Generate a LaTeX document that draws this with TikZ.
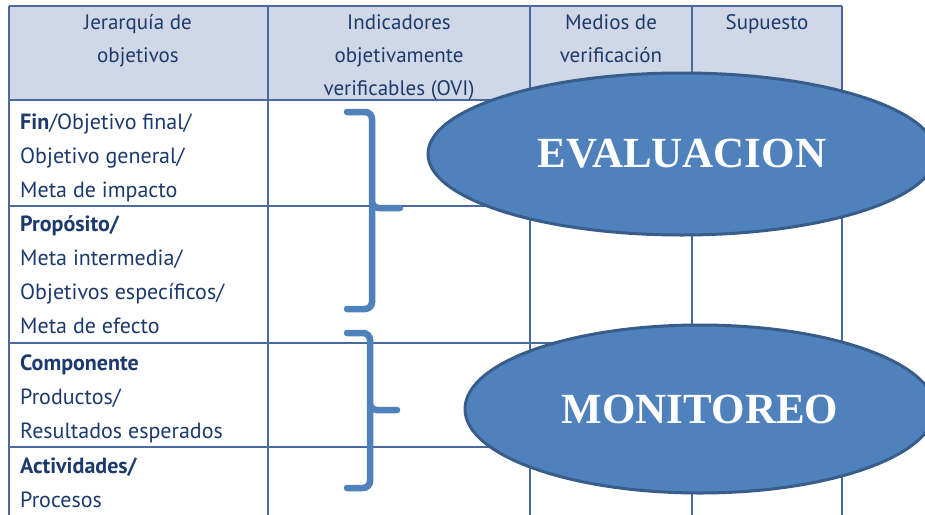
\documentclass[tikz,border=0pt]{standalone}
\usepackage{fontspec}
\setmainfont{Liberation Serif}
\newfontfamily\tabfont{PT Sans}
\usetikzlibrary{shapes.geometric}

\definecolor{hdrfill}{HTML}{D0D8E8}
\definecolor{gridcol}{HTML}{4A6A9E}
\definecolor{txtblue}{HTML}{1C3A6C}
\definecolor{ellfill}{HTML}{4F81BD}
\definecolor{elldraw}{HTML}{385D8A}

\tikzset{
  cell/.style={text=txtblue, inner sep=0pt, anchor=base},
  hcell/.style={cell, align=center, font=\tabfont\fontsize{21}{33}\selectfont},
  rowtext/.style={cell, align=left, anchor=base west, font=\tabfont\fontsize{22}{34}\selectfont},
  brace/.style={line width=6.5pt, color=ellfill, rounded corners=7pt, line cap=round},
  oval/.style={ellipse, fill=ellfill, draw=elldraw, line width=3pt, text=white,
    font=\bfseries\fontsize{43}{43}\selectfont, inner sep=0pt}
}

\begin{document}
\begin{tikzpicture}[x=1pt, y=-1pt]
\useasboundingbox (0,0) rectangle (925,514);
\clip (0,0) rectangle (925,514);
\fill[white] (0,0) rectangle (925,514);

% header
\fill[hdrfill] (9,6) rectangle (842,100);
\draw[gridcol, line width=1.2pt] (9,6) -- (842,6);
\draw[gridcol, line width=1.2pt] (9,100) -- (842,100);
\draw[gridcol, line width=1.2pt] (9,206) -- (842,206);
\draw[gridcol, line width=1.2pt] (9,343) -- (842,343);
\draw[gridcol, line width=1.2pt] (9,447) -- (842,447);
\foreach \x in {9,268,530,692,842}
  \draw[gridcol, line width=1.2pt] (\x,6) -- (\x,520);

% multi-line nodes sit on the baseline of their last line
\node[hcell] (hjer) at (138,62) {Jerarquía de\\objetivos};
\node[hcell] (hind) at (399,95) {Indicadores\\objetivamente\\verificables (OVI)};
\node[hcell] (hmed) at (611,62) {Medios de\\verificación};
\node[hcell] (hsup) at (767,29) {Supuesto};

% rows
\node[rowtext] (fin) at (20,197) {\textbf{Fin}/Objetivo final/\\Objetivo general/\\Meta de impacto};
\node[rowtext] (prop) at (20,333) {\textbf{Propósito/}\\Meta intermedia/\\Objetivos específicos/\\Meta de efecto};
\node[rowtext] (comp) at (20,438) {\textbf{Componente}\\Productos/\\Resultados esperados};
\node[rowtext] (act) at (20,507) {\textbf{Actividades/}\\Procesos};

% braces
\draw[brace] (347,112) -- (372,112) -- (372,208) -- (400,208);
\draw[brace] (372,203) -- (372,309) -- (347,309);
\draw[brace] (347,333) -- (370,333) -- (370,410) -- (397,410);
\draw[brace] (370,405) -- (370,488) -- (347,488);

% ovals
\node[oval, minimum width=508pt, minimum height=162pt] (eval) at (682,154) {EVALUACION};
\node[oval, minimum width=470pt, minimum height=168pt] (moni) at (700,409) {MONITOREO};
\end{tikzpicture}
\end{document}
